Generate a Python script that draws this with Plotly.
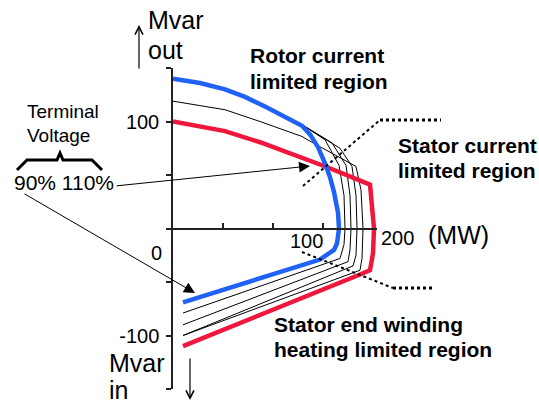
import plotly.graph_objects as go

W, H = 539, 406
FONT = "Liberation Sans, Arial, sans-serif"

# Generator reactive capability curves: active power P (MW) vs reactive power Q (Mvar)
blue_p = [0, 27, 52, 72, 92, 112, 129, 137, 145, 152, 157, 161, 165, 166, 164, 161, 147, 10]
blue_q = [140, 136, 130, 123, 114, 104, 96, 88, 76, 61, 48, 34, 15, 0, -14, -20, -29, -69]

red_p = [0, 52, 89, 122, 155, 197, 200, 201, 200, 197, 187, 10]
red_q = [100, 91, 80, 69, 57, 41, 17, 0, -23, -39, -43, -110]

# intermediate terminal-voltage curves
t1_p = [0, 52, 79, 112, 129, 152, 166, 171, 172, 171, 167, 10]
t1_q = [140, 130, 120, 104, 97, 83, 59, 31, 0, -15, -28, -79]
t2_p = [0, 52, 79, 112, 129, 159, 173, 177, 178, 177, 175, 10]
t2_q = [140, 130, 120, 104, 97, 80, 59, 31, 0, -20, -31, -90]
t3_p = [0, 52, 79, 112, 129, 167, 179, 183, 184, 183, 180, 10]
t3_q = [140, 130, 120, 104, 97, 75, 58, 31, 0, -25, -35, -100]
t4_p = [0, 52, 87, 129, 140, 183, 188, 190, 189, 187, 10]
t4_q = [119, 111, 100, 86, 80, 58, 36, 0, -28, -39, -100]

x_ticks = [50, 100, 150]
y_ticks = [-150, -100, -50, 0, 50, 100, 150]
y_tick_text = ["", "-100", "", "", "", "100", ""]

BLUE = "#1f62f5"
RED = "#f0173c"
AXIS = "#222222"


def px(x):
    return x / W


def py(y):
    return 1 - y / H


fig = go.Figure()

for p, q in [(t1_p, t1_q), (t2_p, t2_q), (t3_p, t3_q), (t4_p, t4_q)]:
    fig.add_trace(go.Scatter(x=p, y=q, mode="lines", cliponaxis=False,
                             line=dict(color="black", width=1), hoverinfo="skip"))
fig.add_trace(go.Scatter(x=red_p, y=red_q, mode="lines", cliponaxis=False,
                         line=dict(color=RED, width=4.5), hoverinfo="skip"))
fig.add_trace(go.Scatter(x=blue_p, y=blue_q, mode="lines", cliponaxis=False,
                         line=dict(color=BLUE, width=4.5), hoverinfo="skip"))

annotations = []


def text(s, x, y, size, bold=False, xanchor="left"):
    annotations.append(dict(
        text=f"<b>{s}</b>" if bold else s, x=px(x), y=py(y),
        xref="paper", yref="paper", xanchor=xanchor, yanchor="middle",
        showarrow=False, font=dict(family=FONT, size=size, color="black")))


def arrow(x0, y0, x1, y1, head=2, size=2.2, width=1):
    annotations.append(dict(
        text="", x=px(x1), y=py(y1), xref="paper", yref="paper",
        ax=x0 - x1, ay=y0 - y1, axref="pixel", ayref="pixel",
        showarrow=True, arrowhead=head, arrowsize=size, arrowwidth=width,
        arrowcolor="black", standoff=0))


# axis titles
text("Mvar", 146, 19.5, 25)
text("out", 146, 50.5, 25)
text("Mvar", 107, 363, 25)
text("in", 107, 389.5, 25)
text("(MW)", 458, 235, 25, xanchor="center")
arrow(139, 70, 139, 25, head=5, size=1.3, width=1.2)
arrow(190, 357, 190, 400, head=5, size=1.3, width=1.2)

# axis numbers placed off the tick marks
text("0", 156, 252.5, 20, xanchor="center")
text("100", 306, 241, 20, xanchor="center")
text("200", 397, 238, 20, xanchor="center")

# region labels
text("Rotor current", 248, 55, 21, bold=True)
text("limited region", 248, 81, 21, bold=True)
text("Stator current", 396, 145, 21, bold=True)
text("limited region", 396, 170, 21, bold=True)
text("Stator end winding", 272, 324, 21, bold=True)
text("heating limited region", 272, 349, 21, bold=True)

# terminal voltage legend
text("Terminal", 25, 111.5, 19)
text("Voltage", 25, 135, 19)
text("90% 110%", 12, 182.5, 21)
arrow(115, 186, 310, 166)
arrow(23, 193, 195, 293)

shapes = [
    # brace over the voltage range
    dict(type="path", xref="paper", yref="paper",
         path=(f"M{px(17)},{py(170)} L{px(27)},{py(160)} L{px(57)},{py(160)} "
               f"L{px(60)},{py(153)} L{px(63)},{py(160)} L{px(92)},{py(160)} "
               f"L{px(102)},{py(170)}"),
         line=dict(color="black", width=3)),
    # leader lines for the stator limits
    dict(type="line", xref="paper", yref="paper", x0=px(303), y0=py(186),
         x1=px(380), y1=py(120), line=dict(color="black", width=2, dash="dot")),
    dict(type="line", xref="paper", yref="paper", x0=px(380), y0=py(120),
         x1=px(441), y1=py(120), line=dict(color="black", width=3, dash="dot")),
    dict(type="line", xref="paper", yref="paper", x0=px(302), y0=py(252),
         x1=px(393), y1=py(288), line=dict(color="black", width=2, dash="dot")),
    dict(type="line", xref="paper", yref="paper", x0=px(393), y0=py(288),
         x1=px(433), y1=py(288), line=dict(color="black", width=3, dash="dot")),
]

fig.update_layout(
    width=W, height=H, margin=dict(l=0, r=0, t=0, b=0),
    paper_bgcolor="white", plot_bgcolor="rgba(0,0,0,0)", showlegend=False,
    annotations=annotations, shapes=shapes,
    xaxis=dict(domain=[173 / W, 377 / W], range=[0, 204], anchor="free",
               position=(H - 228.5) / H, showgrid=False, zeroline=False,
               showline=True, linecolor=AXIS, linewidth=1.5,
               ticks="inside", ticklen=5, tickwidth=1.5, tickcolor=AXIS,
               tickvals=x_ticks, showticklabels=False, fixedrange=True),
    yaxis=dict(domain=[17 / H, 338 / H], range=[-150, 150], anchor="x",
               showgrid=False, zeroline=False, showline=True, linecolor=AXIS,
               linewidth=1.5, ticks="outside", ticklen=5, tickwidth=1.5,
               tickcolor=AXIS, tickvals=y_ticks, ticktext=y_tick_text,
               tickfont=dict(family=FONT, size=20, color="black"),
               ticklabelstandoff=3, fixedrange=True),
)

fig.write_html("out.html")
